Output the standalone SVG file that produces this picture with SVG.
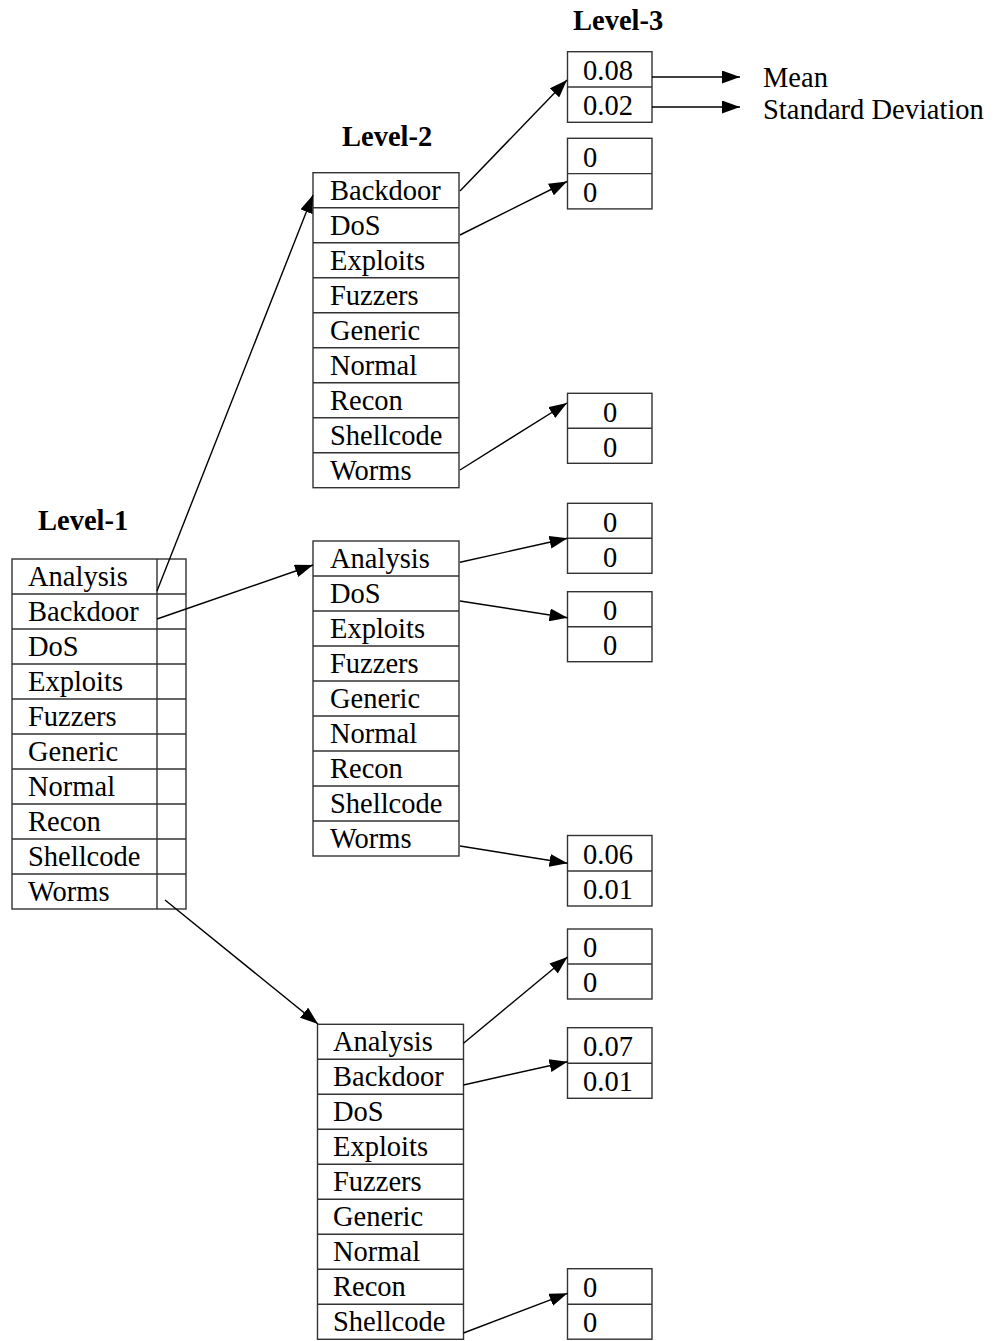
<svg xmlns="http://www.w3.org/2000/svg" width="999" height="1341" viewBox="0 0 999 1341">
<style>
.box{fill:#fff;stroke:#333;stroke-width:1.4}
.sep{stroke:#333;stroke-width:1.4;fill:none}
.t{font-family:"Liberation Serif","Times New Roman",serif;font-size:28.5px;fill:#000}
.c{text-anchor:middle}
.h{font-family:"Liberation Serif","Times New Roman",serif;font-size:28.5px;font-weight:bold;fill:#000}
.e{stroke:#000;stroke-width:1.4;fill:none;marker-end:url(#ah)}
</style>
<defs>
<marker id="ah" markerUnits="userSpaceOnUse" markerWidth="18" markerHeight="13" viewBox="0 0 18 13" refX="18" refY="6.5" orient="auto">
<path d="M0,0 L18,6.5 L0,13 z" fill="#000"/>
</marker>
</defs>
<rect width="999" height="1341" fill="#fff"/>

<text class="h" x="38" y="530">Level-1</text>
<text class="h" x="342" y="146">Level-2</text>
<text class="h" x="573" y="30">Level-3</text>

<g id="level1">
<rect class="box" x="12" y="559" width="174" height="350"/>
<path class="sep" d="M157,559 V909 M12,594 H186 M12,629 H186 M12,664 H186 M12,699 H186 M12,734 H186 M12,769 H186 M12,804 H186 M12,839 H186 M12,874 H186"/>
<text class="t" x="28" y="586">Analysis</text>
<text class="t" x="28" y="621">Backdoor</text>
<text class="t" x="28" y="656">DoS</text>
<text class="t" x="28" y="691">Exploits</text>
<text class="t" x="28" y="726">Fuzzers</text>
<text class="t" x="28" y="761">Generic</text>
<text class="t" x="28" y="796">Normal</text>
<text class="t" x="28" y="831">Recon</text>
<text class="t" x="28" y="866">Shellcode</text>
<text class="t" x="28" y="901">Worms</text>
</g>

<g id="level2-a">
<rect class="box" x="313" y="172.7" width="146" height="315"/>
<path class="sep" d="M313,207.7 H459 M313,242.7 H459 M313,277.7 H459 M313,312.7 H459 M313,347.7 H459 M313,382.7 H459 M313,417.7 H459 M313,452.7 H459"/>
<text class="t" x="330" y="200">Backdoor</text>
<text class="t" x="330" y="235">DoS</text>
<text class="t" x="330" y="270">Exploits</text>
<text class="t" x="330" y="305">Fuzzers</text>
<text class="t" x="330" y="340">Generic</text>
<text class="t" x="330" y="375">Normal</text>
<text class="t" x="330" y="410">Recon</text>
<text class="t" x="330" y="445">Shellcode</text>
<text class="t" x="330" y="480">Worms</text>
</g>

<g id="level2-b">
<rect class="box" x="313" y="541" width="146" height="315"/>
<path class="sep" d="M313,576 H459 M313,611 H459 M313,646 H459 M313,681 H459 M313,716 H459 M313,751 H459 M313,786 H459 M313,821 H459"/>
<text class="t" x="330" y="568">Analysis</text>
<text class="t" x="330" y="603">DoS</text>
<text class="t" x="330" y="638">Exploits</text>
<text class="t" x="330" y="673">Fuzzers</text>
<text class="t" x="330" y="708">Generic</text>
<text class="t" x="330" y="743">Normal</text>
<text class="t" x="330" y="778">Recon</text>
<text class="t" x="330" y="813">Shellcode</text>
<text class="t" x="330" y="848">Worms</text>
</g>

<g id="level2-c">
<rect class="box" x="317.5" y="1024.3" width="146" height="315"/>
<path class="sep" d="M317.5,1059.3 H463.5 M317.5,1094.3 H463.5 M317.5,1129.3 H463.5 M317.5,1164.3 H463.5 M317.5,1199.3 H463.5 M317.5,1234.3 H463.5 M317.5,1269.3 H463.5 M317.5,1304.3 H463.5"/>
<text class="t" x="333" y="1051">Analysis</text>
<text class="t" x="333" y="1086">Backdoor</text>
<text class="t" x="333" y="1121">DoS</text>
<text class="t" x="333" y="1156">Exploits</text>
<text class="t" x="333" y="1191">Fuzzers</text>
<text class="t" x="333" y="1226">Generic</text>
<text class="t" x="333" y="1261">Normal</text>
<text class="t" x="333" y="1296">Recon</text>
<text class="t" x="333" y="1331">Shellcode</text>
</g>

<g id="l3-1">
<rect class="box" x="567.5" y="51.7" width="84.5" height="70.6"/>
<path class="sep" d="M567.5,87 H652"/>
<text class="t" x="583" y="80">0.08</text>
<text class="t" x="583" y="115">0.02</text>
</g>
<g id="l3-2">
<rect class="box" x="567.5" y="138.3" width="84.5" height="70.6"/>
<path class="sep" d="M567.5,173.6 H652"/>
<text class="t" x="583" y="166.5">0</text>
<text class="t" x="583" y="201.5">0</text>
</g>
<g id="l3-3">
<rect class="box" x="567.5" y="393.3" width="84.5" height="70"/>
<path class="sep" d="M567.5,428.3 H652"/>
<text class="t c" x="610" y="421.5">0</text>
<text class="t c" x="610" y="456.5">0</text>
</g>
<g id="l3-4">
<rect class="box" x="567.5" y="503.3" width="84.5" height="70"/>
<path class="sep" d="M567.5,538.3 H652"/>
<text class="t c" x="610" y="531.5">0</text>
<text class="t c" x="610" y="566.5">0</text>
</g>
<g id="l3-5">
<rect class="box" x="567.5" y="591.7" width="84.5" height="70"/>
<path class="sep" d="M567.5,626.7 H652"/>
<text class="t c" x="610" y="620">0</text>
<text class="t c" x="610" y="655">0</text>
</g>
<g id="l3-6">
<rect class="box" x="567.5" y="835.5" width="84.5" height="70.5"/>
<path class="sep" d="M567.5,871 H652"/>
<text class="t" x="583" y="864">0.06</text>
<text class="t" x="583" y="899">0.01</text>
</g>
<g id="l3-7">
<rect class="box" x="567.5" y="929" width="84.5" height="70"/>
<path class="sep" d="M567.5,964 H652"/>
<text class="t" x="583" y="957">0</text>
<text class="t" x="583" y="992">0</text>
</g>
<g id="l3-8">
<rect class="box" x="567.5" y="1027.7" width="84.5" height="70.6"/>
<path class="sep" d="M567.5,1063.3 H652"/>
<text class="t" x="583" y="1056">0.07</text>
<text class="t" x="583" y="1091">0.01</text>
</g>
<g id="l3-9">
<rect class="box" x="567.5" y="1268.7" width="84.5" height="70.5"/>
<path class="sep" d="M567.5,1304.3 H652"/>
<text class="t" x="583" y="1297">0</text>
<text class="t" x="583" y="1332">0</text>
</g>

<g id="legend">
<text class="t" x="763" y="87">Mean</text>
<text class="t" x="763" y="119">Standard Deviation</text>
</g>

<g id="connectors">
<line class="e" x1="157" y1="591" x2="313" y2="195"/>
<line class="e" x1="157" y1="619" x2="313" y2="565"/>
<line class="e" x1="165" y1="900" x2="318" y2="1024"/>
<line class="e" x1="460" y1="191" x2="567" y2="80"/>
<line class="e" x1="460" y1="235" x2="567" y2="181.5"/>
<line class="e" x1="460" y1="470" x2="567" y2="403"/>
<line class="e" x1="460" y1="562.3" x2="567.5" y2="538.3"/>
<line class="e" x1="460" y1="601" x2="567.5" y2="617.7"/>
<line class="e" x1="460" y1="846" x2="567.5" y2="863.3"/>
<line class="e" x1="463.5" y1="1043.3" x2="567.5" y2="957"/>
<line class="e" x1="463.5" y1="1085" x2="567.5" y2="1061.7"/>
<line class="e" x1="463.5" y1="1333" x2="567.5" y2="1293.3"/>
<line class="e" x1="652" y1="77" x2="740" y2="77"/>
<line class="e" x1="652" y1="107" x2="740" y2="107"/>
</g>
</svg>
